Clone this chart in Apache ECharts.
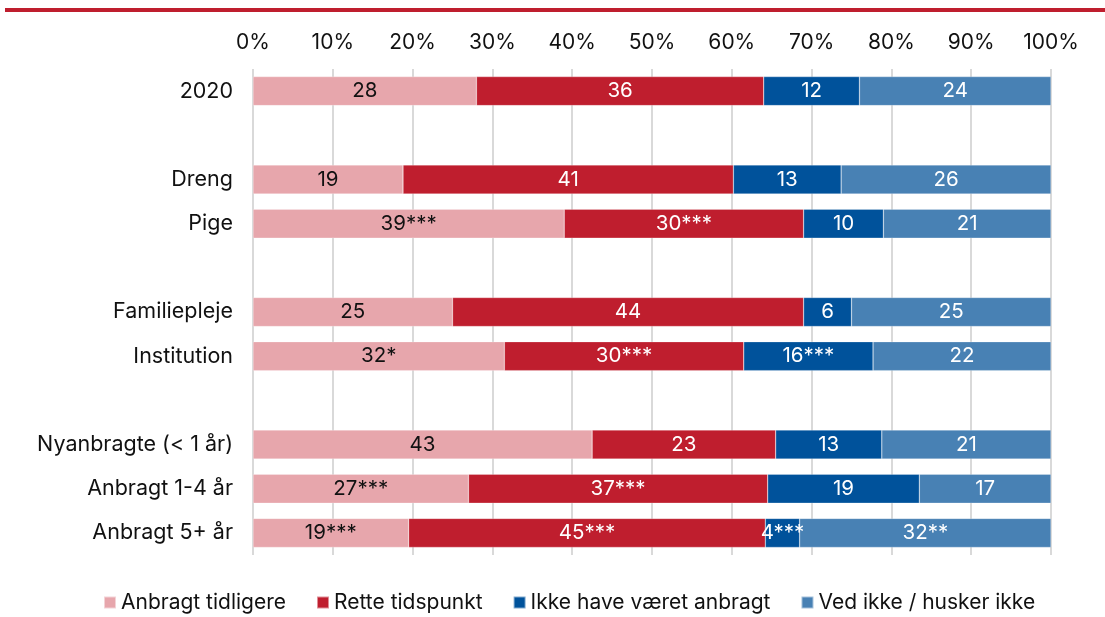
<!DOCTYPE html>
<html>
<head>
<meta charset="utf-8">
<script src="https://cdn.jsdelivr.net/npm/echarts@6/dist/echarts.min.js"></script>
<style>
  html, body { margin: 0; padding: 0; background: #fff; }
  #chart { width: 1105px; height: 617px; }
</style>
</head>
<body>
<div id="chart"></div>
<script>
// kategorier (tomme rækker giver mellemrum mellem grupperne)
var categories = ['2020', ' ', 'Dreng', 'Pige', '  ', 'Familiepleje', 'Institution', '   ',
  'Nyanbragte (< 1 år)', 'Anbragt 1-4 år', 'Anbragt 5+ år'];

var seriesNames = ['Anbragt tidligere', 'Rette tidspunkt', 'Ikke have været anbragt', 'Ved ikke / husker ikke'];

// værdier (procent)
var tidligere = [28, null, 18.8, 39, null, 25, 31.5, null, 42.5, 27, 19.5];
var rette     = [36, null, 41.4, 30, null, 44, 30, null, 23, 37.5, 44.7];
var ikkeHave  = [12, null, 13.5, 10, null, 6, 16.2, null, 13.3, 19, 4.3];
var vedIkke   = [24, null, 26.3, 21, null, 25, 22.3, null, 21.2, 16.5, 31.5];

// etiketter som vist i figuren
var tidligereLbl = ['28', '', '19', '39***', '', '25', '32*', '', '43', '27***', '19***'];
var retteLbl     = ['36', '', '41', '30***', '', '44', '30***', '', '23', '37***', '45***'];
var ikkeHaveLbl  = ['12', '', '13', '10', '', '6', '16***', '', '13', '19', '4***'];
var vedIkkeLbl   = ['24', '', '26', '21', '', '25', '22', '', '21', '17', '32**'];

var xTicks = [0, 10, 20, 30, 40, 50, 60, 70, 80, 90, 100];

var colors = ['#E7A6AC', '#BF1E2E', '#00529B', '#4881B4'];
var labelColors = ['#111', '#fff', '#fff', '#fff'];

var font = 'Inter, "Noto Sans", sans-serif';

function makeSeries(idx, values, labels) {
  return {
    name: seriesNames[idx],
    type: 'bar',
    stack: 'total',
    barWidth: 29,
    data: values,
    itemStyle: { color: colors[idx], borderColor: 'rgba(255,255,255,0.5)', borderWidth: 0.5 },
    label: {
      show: true,
      position: 'inside',
      color: labelColors[idx],
      fontFamily: font,
      fontSize: 20.5,
      formatter: function(p) { return labels[p.dataIndex]; }
    }
  };
}

var chart = echarts.init(document.getElementById('chart'));
chart.setOption({
  animation: false,
  color: colors,
  graphic: [{
    type: 'rect',
    shape: { x: 5, y: 8, width: 1100, height: 4 },
    style: { fill: '#BF1E2E' }
  }],
  grid: { left: 253, right: 54, top: 69, bottom: 62, containLabel: false },
  legend: {
    top: 587,
    left: 98,
    itemWidth: 12,
    itemHeight: 12,
    itemGap: 30,
    icon: 'rect',
    textStyle: { fontFamily: font, fontSize: 21, color: '#111' },
    data: seriesNames
  },
  xAxis: {
    type: 'value',
    position: 'top',
    min: xTicks[0],
    max: xTicks[xTicks.length - 1],
    interval: 10,
    axisLine: { show: false },
    axisTick: { show: false },
    axisLabel: { formatter: '{value}%', fontFamily: font, fontSize: 21, color: '#111', margin: 16 },
    splitLine: { show: true, lineStyle: { color: '#D9D9D9', width: 2 } }
  },
  yAxis: {
    type: 'category',
    inverse: true,
    data: categories,
    axisLine: { show: false },
    axisTick: { show: false },
    axisLabel: { fontFamily: font, fontSize: 21.5, color: '#111', margin: 20 }
  },
  series: [
    makeSeries(0, tidligere, tidligereLbl),
    makeSeries(1, rette, retteLbl),
    makeSeries(2, ikkeHave, ikkeHaveLbl),
    makeSeries(3, vedIkke, vedIkkeLbl)
  ]
});
</script>
</body>
</html>
